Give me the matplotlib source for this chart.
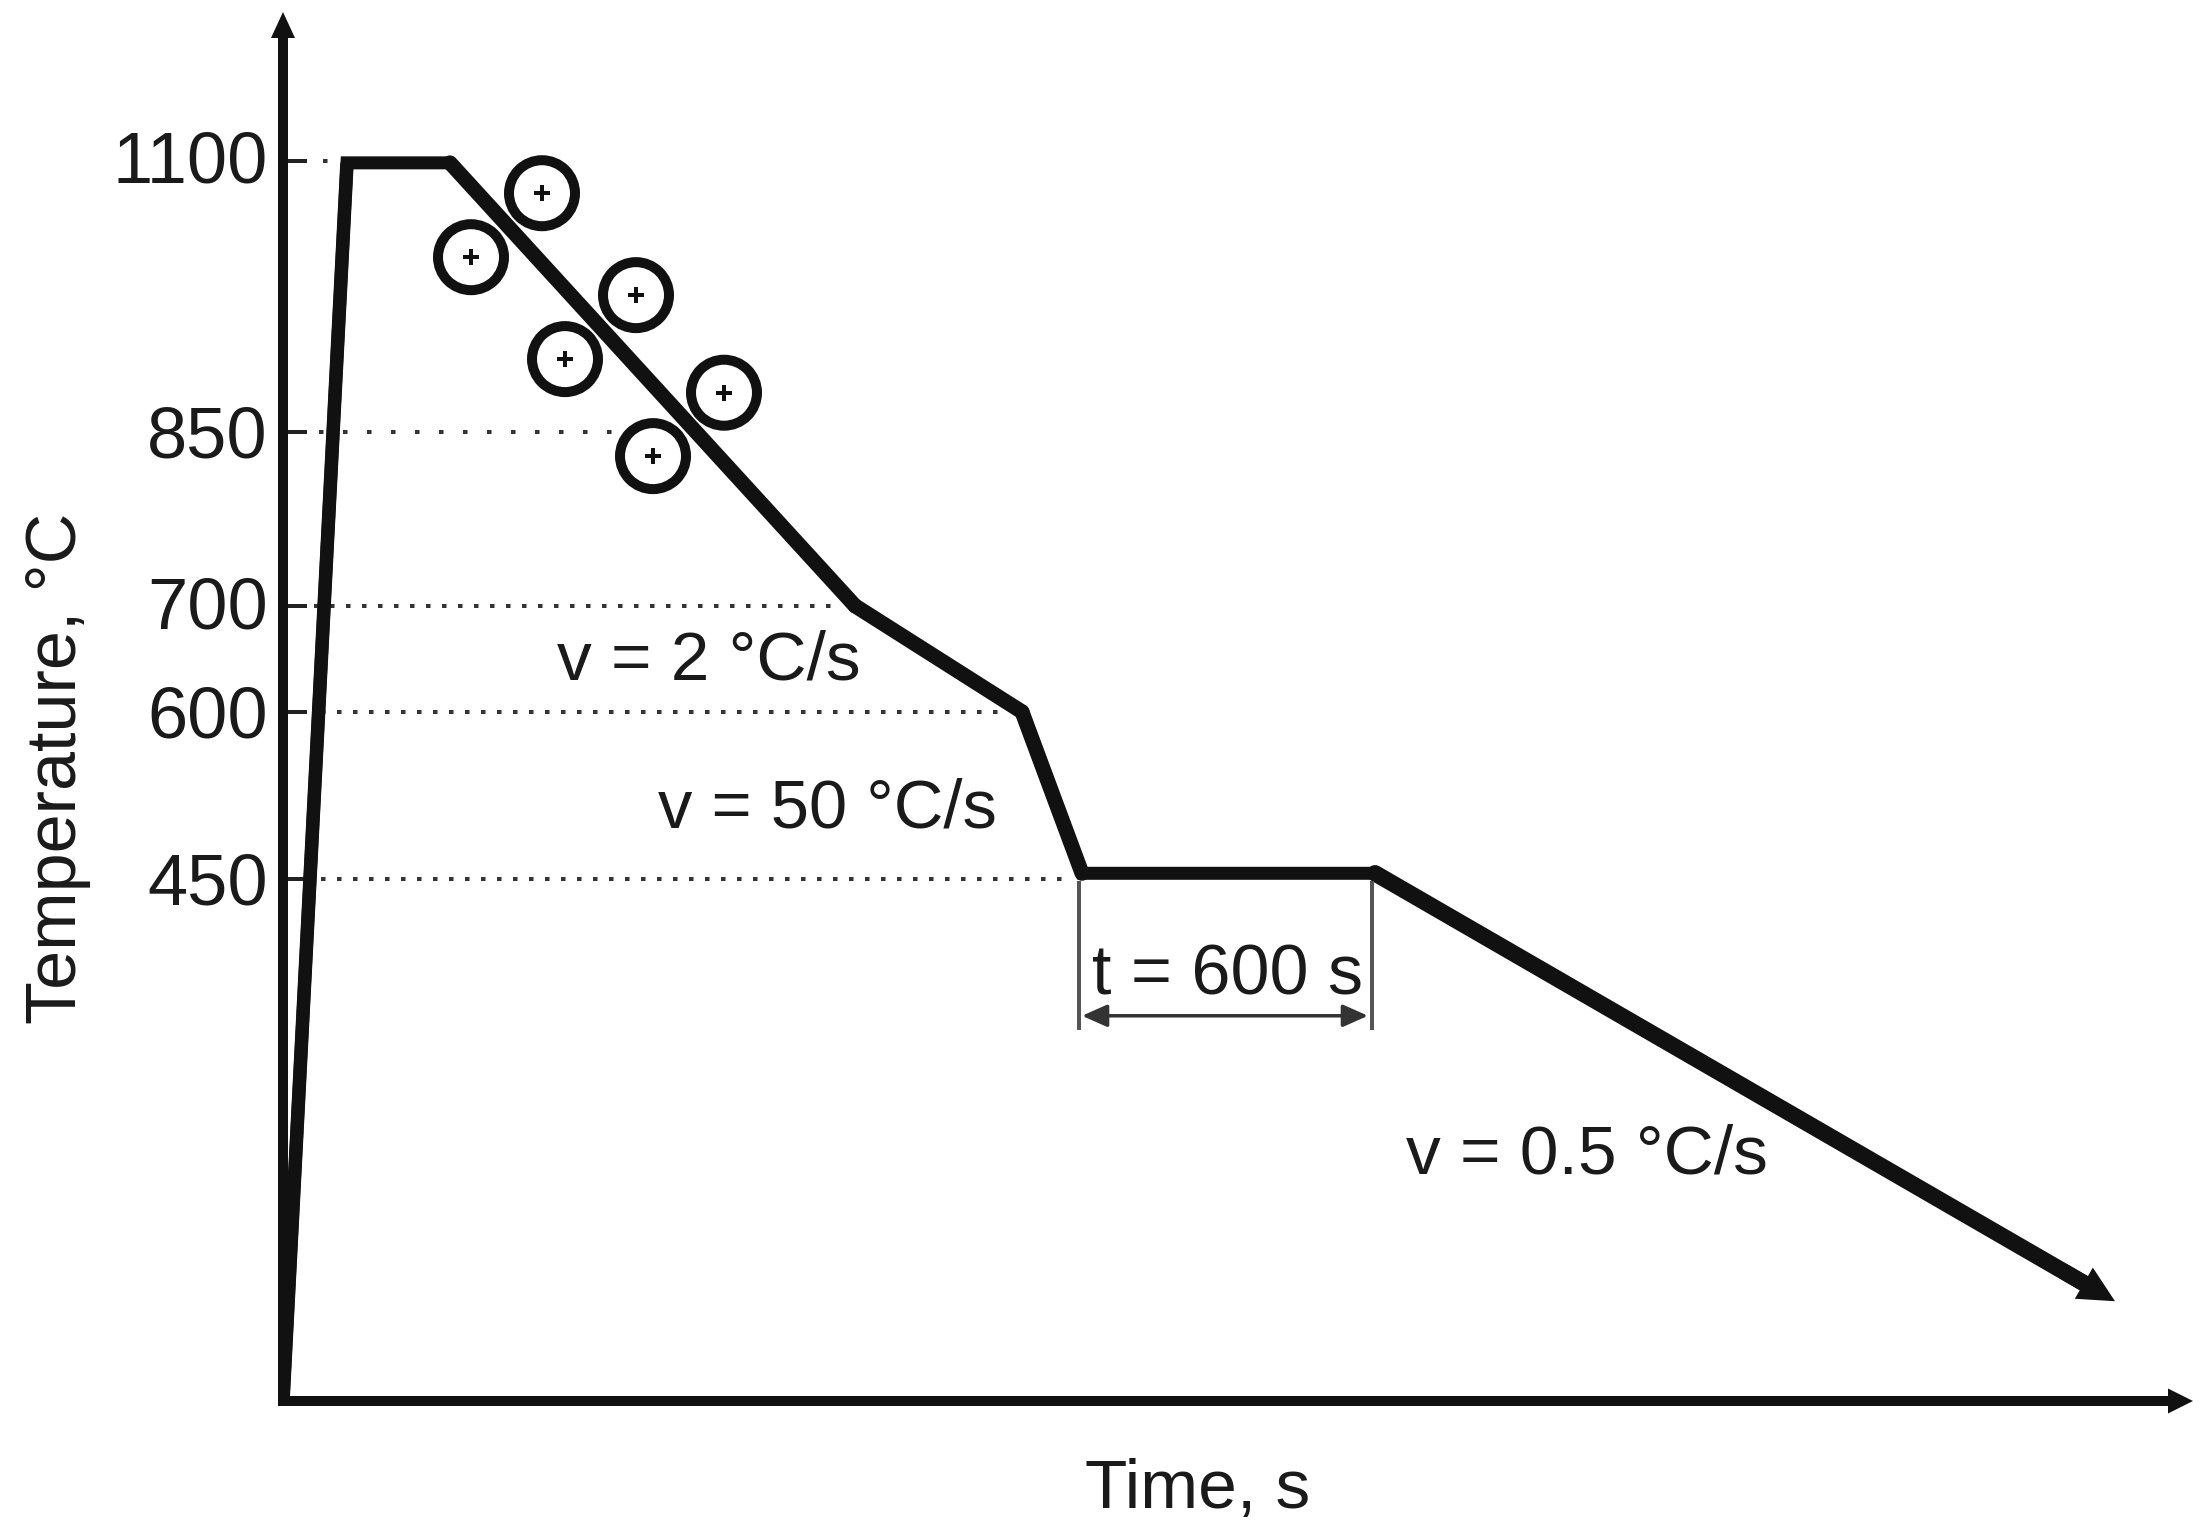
#!/usr/bin/env python3

import matplotlib
matplotlib.use('Agg')
import matplotlib.pyplot as plt
from matplotlib.patches import FancyArrowPatch
from matplotlib.transforms import ScaledTranslation
import numpy as np

plt.rcParams['font.family'] = ['Liberation Sans', 'DejaVu Sans']
plt.rcParams['lines.scale_dashes'] = False

# temperature path (time is schematic, arbitrary units)
path_time = [0, 64, 167, 572, 739, 799, 1092, 1832]
path_temp = [0, 1098, 1098, 700, 600, 455, 455, 86]

# y axis of the original is not quite linear: temperature vs. height
scale_temp = [0, 450, 600, 700, 850, 1100, 1300]
scale_height = [0, 522, 689, 795, 969, 1240, 1457]

tick_temp = [1100, 850, 700, 600, 450]
guide_end = [57, 369, 555, 721, 785]
guide_period = [24, 24, 16, 16, 16]
guide_start = [40, 36, 31, 38, 38]
label_up = [4, 0, 3, 0, 0]

# sampling points on both sides of the cooling line
point_time = [259, 188, 353, 282, 441, 370]
point_temp = [1070, 1011, 976, 917, 886, 829]

hold_start = 799
hold_end = 1092
hold_temp = 332
hold_bottom = 320

W, H = 2206, 1536
PX = 72 / 100  # one pixel in points
TOP = 1237
RIGHT = 1910
black = '#111111'
txt = '#1a1a1a'


def forward(t):
    return np.interp(t, scale_temp, scale_height)


def inverse(h):
    return np.interp(h, scale_height, scale_temp)


def solid_arrow(ax, start, end, tail, head_len, head_wid):
    style = f'simple,tail_width={tail * PX},head_length={head_len * PX},head_width={head_wid * PX}'
    ax.add_patch(FancyArrowPatch(start, end, arrowstyle=style, mutation_scale=1, lw=0,
                                 color=black, shrinkA=0, shrinkB=0, clip_on=False, zorder=3))


fig = plt.figure(figsize=(W / 100, H / 100), dpi=100)
ax = fig.add_axes([283 / W, (H - 1401) / H, RIGHT / W, 1389 / H])
ax.set_xlim(0, RIGHT)
ax.set_yscale('function', functions=(forward, inverse))
ax.set_ylim(0, TOP)
ax.patch.set_alpha(0)

for side in ['top', 'right', 'left', 'bottom']:
    ax.spines[side].set_visible(False)

ax.set_xticks([])
ax.set_yticks(tick_temp)
ax.set_yticklabels([str(t) for t in tick_temp], fontsize=52)
ax.minorticks_off()
ax.tick_params(axis='y', length=0, pad=11, colors=txt)
for lab, up in zip(ax.get_yticklabels(), label_up):
    lab.set_transform(lab.get_transform() + ScaledTranslation(0, up * PX / 72, fig.dpi_scale_trans))

# dotted guides
for temp, start, end, period in zip(tick_temp, guide_start, guide_end, guide_period):
    ax.plot([0, 24], [temp, temp], color='#222222', lw=4 * PX, solid_capstyle='butt')
    ax.plot([start, end], [temp, temp], color='#333333', lw=4 * PX,
            linestyle=(0, (4.5 * PX, (period - 4.5) * PX)), dash_capstyle='butt')

# axes with arrow heads
solid_arrow(ax, (0, 0), (0, TOP), 10, 26, 24)
solid_arrow(ax, (-5, 0), (RIGHT, 0), 10, 25, 25)

# main curve, the last part ends under the arrow head
stem_time = path_time[:-1] + [path_time[-2] + 0.97 * (path_time[-1] - path_time[-2])]
stem_temp = path_temp[:-1] + [path_temp[-2] + 0.97 * (path_temp[-1] - path_temp[-2])]
ax.plot(stem_time, stem_temp, color=black, lw=13 * PX, solid_joinstyle='miter', solid_capstyle='butt')

# the sloped parts are a bit heavier than the plateaus in the original
slope_width = {0: 13.5, 2: 15, 3: 15, 4: 15, 6: 16.5}
for i, width in slope_width.items():
    cap = 'butt' if i == 0 else 'round'
    ax.plot(stem_time[i:i + 2], stem_temp[i:i + 2], color=black, lw=width * PX, solid_capstyle=cap)

head_from = (path_time[-2] + 0.93 * (path_time[-1] - path_time[-2]),
             path_temp[-2] + 0.93 * (path_temp[-1] - path_temp[-2]))
solid_arrow(ax, head_from, (path_time[-1], path_temp[-1]), 16, 36, 36)

# circles with a cross in the middle
ax.scatter(point_time, point_temp, s=(66 * PX) ** 2, facecolors='none', edgecolors='white',
           linewidths=13 * PX, zorder=4)
ax.scatter(point_time, point_temp, s=(66 * PX) ** 2, facecolors='none', edgecolors=black,
           linewidths=10 * PX, zorder=5)
ax.scatter(point_time, point_temp, s=(16 * PX) ** 2, marker='+', color=black,
           linewidths=4 * PX, zorder=5)

# holding time
for x in [hold_start, hold_end]:
    ax.plot([x - 3, x - 3], [448, hold_bottom], color='#555555', lw=4 * PX, solid_capstyle='butt')
ax.add_patch(FancyArrowPatch((hold_start, hold_temp), (hold_end - 7, hold_temp),
                             arrowstyle='<|-|>,head_length=0.9,head_width=0.4', mutation_scale=17,
                             lw=3.5 * PX, color='#333333', shrinkA=0, shrinkB=0))

ax.text(945, 366, 't = 600 s', fontsize=50.5, ha='center', va='center', color=txt)
ax.text(426, 647, 'v = 2 °C/s', fontsize=50, ha='center', va='center', color=txt)
ax.text(544, 512, 'v = 50 °C/s', fontsize=49.5, ha='center', va='center', color=txt)
ax.text(1304, 212, 'v = 0.5 °C/s', fontsize=50, ha='center', va='center', color=txt)

fig.text(1198 / W, 1 - 1490 / H, 'Time, s', fontsize=50, ha='center', va='center', color=txt)
fig.text(58 / W, 1 - 768 / H, 'Temperature, °C', fontsize=50.5, rotation=90, ha='center', va='center', color=txt)

fig.savefig('out.png', dpi=100)
